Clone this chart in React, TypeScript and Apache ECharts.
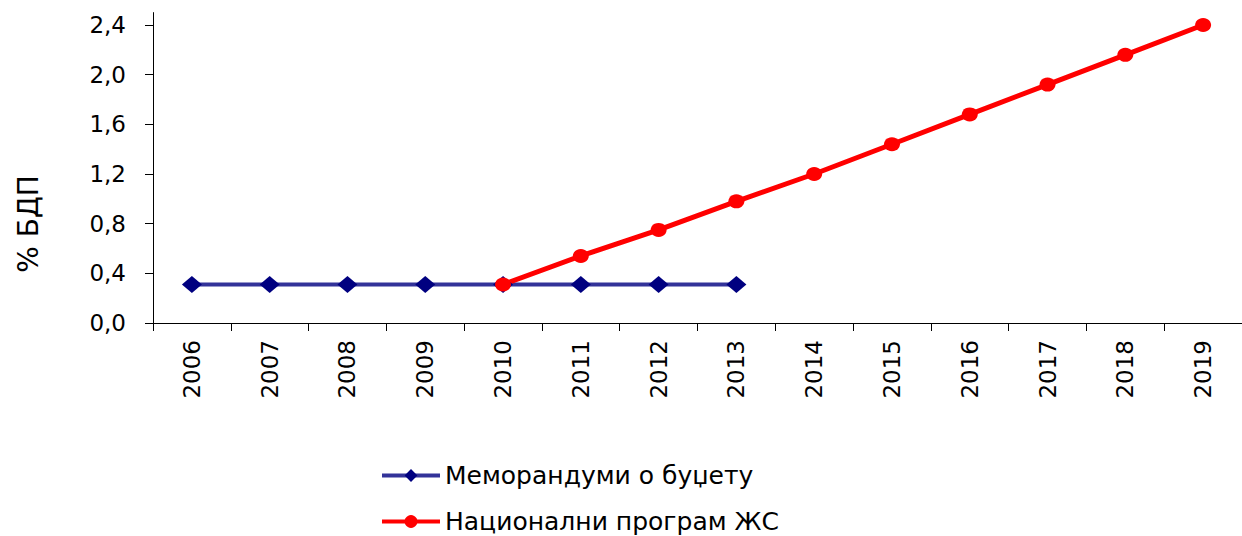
import React, { useEffect, useRef } from "react";
import * as echarts from "echarts";

const years = ["2006", "2007", "2008", "2009", "2010", "2011", "2012", "2013", "2014", "2015", "2016", "2017", "2018", "2019"];
const memorandumValues = [0.31, 0.31, 0.31, 0.31, 0.31, 0.31, 0.31, 0.31, null, null, null, null, null, null];
const nationalValues = [null, null, null, null, 0.31, 0.54, 0.75, 0.98, 1.2, 1.44, 1.68, 1.92, 2.16, 2.4];
const yTicks = [0, 0.4, 0.8, 1.2, 1.6, 2.0, 2.4];
const seriesNames = ["Меморандуми о буџету", "Национални програм ЖС"];
const yAxisTitle = "% БДП";

const FONT = "DejaVu Sans";

export default function App() {
  const ref = useRef<HTMLDivElement>(null);
  useEffect(() => {
    if (!ref.current) return;
    const chart = echarts.init(ref.current, null, { renderer: "svg" });
    chart.setOption({
      animation: false,
      backgroundColor: "#ffffff",
      grid: { left: 153, right: -9, top: 12.6, bottom: 213, containLabel: false },
      legend: {
        orient: "vertical",
        left: 380,
        top: 463,
        padding: 0,
        itemWidth: 58,
        itemHeight: 16,
        itemGap: 21,
        lineStyle: { width: 4 },
        textStyle: { fontFamily: FONT, fontSize: 25, color: "#000", lineHeight: 24 },
        data: seriesNames,
      },
      graphic: [
        {
          type: "text",
          x: 28,
          y: 224,
          rotation: Math.PI / 2,
          style: {
            text: yAxisTitle,
            fontFamily: FONT,
            fontSize: 28,
            fill: "#000",
            align: "center",
            verticalAlign: "middle",
          },
        },
      ],
      xAxis: {
        type: "category",
        data: years,
        boundaryGap: true,
        axisLine: { lineStyle: { color: "#000", width: 1 } },
        axisTick: { show: true, length: 8, alignWithLabel: false, lineStyle: { color: "#000" } },
        axisLabel: { rotate: 90, margin: 17, fontFamily: FONT, fontSize: 23, color: "#000", interval: 0 },
        splitLine: { show: false },
      },
      yAxis: {
        type: "value",
        min: 0,
        max: 2.5,
        interval: 0.1,
        axisLine: { show: true, lineStyle: { color: "#000", width: 1 } },
        axisTick: { show: true, length: 8, inside: false, customValues: yTicks, lineStyle: { color: "#000" } },
        axisLabel: {
          customValues: yTicks,
          margin: 27,
          fontFamily: FONT,
          fontSize: 23,
          color: "#000",
          formatter: (v: number) => v.toFixed(1).replace(".", ","),
        },
        splitLine: { show: false },
      },
      series: [
        {
          name: seriesNames[0],
          type: "line",
          data: memorandumValues,
          symbol: "diamond",
          symbolSize: [20, 17],
          showAllSymbol: true,
          lineStyle: { color: "#333399", width: 4 },
          itemStyle: { color: "#000080" },
          connectNulls: false,
        },
        {
          name: seriesNames[1],
          type: "line",
          data: nationalValues,
          symbol: "circle",
          symbolSize: [16, 14],
          showAllSymbol: true,
          lineStyle: { color: "#ff0000", width: 5 },
          itemStyle: { color: "#ff0000" },
          connectNulls: false,
        },
      ],
    });
    return () => chart.dispose();
  }, []);
  return <div ref={ref} style={{ position: "fixed", left: 0, top: 0, width: 1242, height: 536 }} />;
}
